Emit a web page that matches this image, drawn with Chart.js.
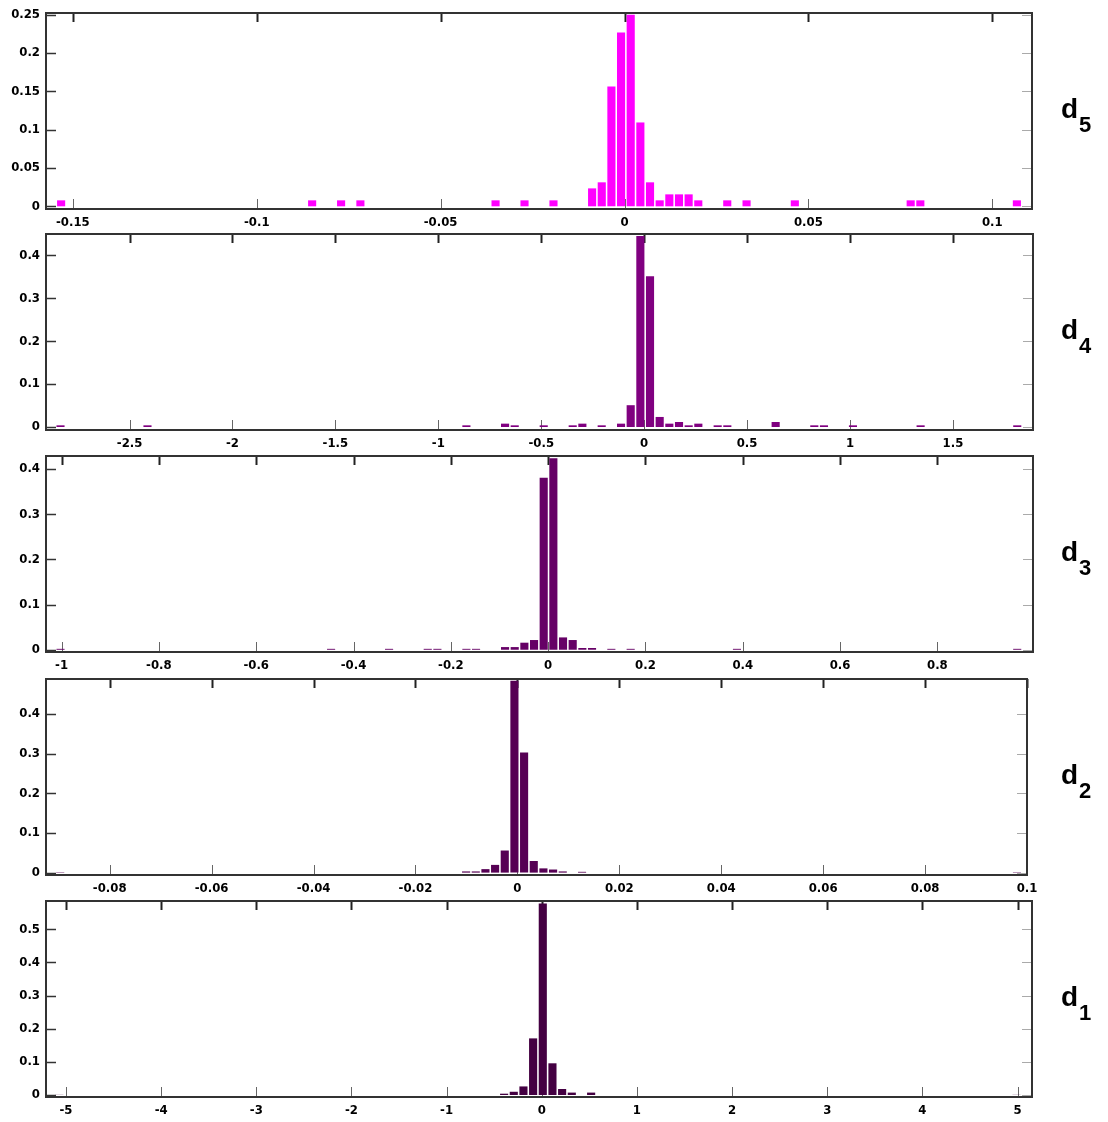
<!DOCTYPE html>
<html>
<head>
<meta charset="utf-8">
<script src="https://cdn.jsdelivr.net/npm/chart.js@4.4.1/dist/chart.umd.min.js"></script>
<style>
  body { margin: 0; background: #fff; }
  #wrap { position: relative; width: 1108px; height: 1122px; overflow: hidden; background: #fff; }
  #wrap canvas { position: absolute; left: 0; }
  .level { position: absolute; left: 1061px; font-family: "Liberation Sans", Arial, sans-serif; font-weight: bold; color: #000; line-height: 1; white-space: nowrap; }
  .level .d { font-size: 28px; }
  .level .n { font-size: 22px; position: relative; top: 14px; margin-left: 1px; }
</style>
</head>
<body>
<div id="wrap"></div>
<script>
// histogram of each detail level: 100 equal bins over the level's data range,
// only the non-empty bins are listed (bin index, relative frequency)

const d5Range = [-0.1545, 0.108];
const d5Bins = [0, 26, 29, 31, 45, 48, 51, 55, 56, 57, 58, 59, 60, 61, 62, 63, 64, 65, 66, 69, 71, 76, 88, 89, 99];
const d5Freq = [0.0078, 0.0078, 0.0078, 0.0078, 0.0078, 0.0078, 0.0078, 0.0234, 0.0313, 0.1563, 0.2266, 0.25, 0.1094,
  0.0313, 0.0078, 0.0156, 0.0156, 0.0156, 0.0078, 0.0078, 0.0078, 0.0078, 0.0078, 0.0078, 0.0078];
const d5XLimits = [-0.1573, 0.1108];
const d5YLimits = [-0.0035, 0.2522];
const d5XTicks = [-0.15, -0.1, -0.05, 0, 0.05, 0.1];
const d5YTicks = [0, 0.05, 0.1, 0.15, 0.2, 0.25];

const d4Range = [-2.859, 1.836];
const d4Bins = [0, 9, 42, 46, 47, 50, 53, 54, 56, 58, 59, 60, 61, 62, 63, 64, 65, 66, 68, 69, 74, 78, 79, 82, 89, 99];
const d4Freq = [0.0039, 0.0039, 0.0039, 0.0078, 0.0039, 0.0039, 0.0039, 0.0078, 0.0039, 0.0078, 0.0508, 0.4453, 0.3516,
  0.0234, 0.0078, 0.0117, 0.0039, 0.0078, 0.0039, 0.0039, 0.0117, 0.0039, 0.0039, 0.0039, 0.0039, 0.0039];
const d4XLimits = [-2.906, 1.889];
const d4YLimits = [-0.007, 0.4498];
const d4XTicks = [-2.5, -2, -1.5, -1, -0.5, 0, 0.5, 1, 1.5];
const d4YTicks = [0, 0.1, 0.2, 0.3, 0.4];

const d3Range = [-1.0121, 0.974];
const d3Bins = [0, 28, 34, 38, 39, 42, 43, 46, 47, 48, 49, 50, 51, 52, 53, 54, 55, 57, 59, 70, 99];
const d3Freq = [0.002, 0.002, 0.002, 0.002, 0.002, 0.002, 0.002, 0.0059, 0.0059, 0.0156, 0.0215, 0.3809, 0.4238,
  0.0273, 0.0215, 0.0039, 0.0039, 0.002, 0.002, 0.002, 0.002];
const d3XLimits = [-1.032, 0.9965];
const d3YLimits = [-0.005, 0.429];
const d3XTicks = [-1, -0.8, -0.6, -0.4, -0.2, 0, 0.2, 0.4, 0.6, 0.8];
const d3YTicks = [0, 0.1, 0.2, 0.3, 0.4];

const d2Range = [-0.09066, 0.09898];
const d2Bins = [0, 42, 43, 44, 45, 46, 47, 48, 49, 50, 51, 52, 54, 99];
const d2Freq = [0.001, 0.003, 0.003, 0.0088, 0.0195, 0.0557, 0.4834, 0.3027, 0.0293, 0.0107, 0.0078, 0.003, 0.002, 0.001];
const d2XLimits = [-0.0925, 0.1];
const d2YLimits = [-0.006, 0.488];
const d2XTicks = [-0.08, -0.06, -0.04, -0.02, 0, 0.02, 0.04, 0.06, 0.08, 0.1];
const d2YTicks = [0, 0.1, 0.2, 0.3, 0.4];

const d1Range = [-5.12, 5.04];
const d1Bins = [0, 46, 47, 48, 49, 50, 51, 52, 53, 55, 99];
const d1Freq = [0.0005, 0.004, 0.0098, 0.0259, 0.1709, 0.5781, 0.0957, 0.0181, 0.0073, 0.0073, 0.0005];
const d1XLimits = [-5.21, 5.152];
const d1YLimits = [-0.006, 0.5855];
const d1XTicks = [-5, -4, -3, -2, -1, 0, 1, 2, 3, 4, 5];
const d1YTicks = [0, 0.1, 0.2, 0.3, 0.4, 0.5];

const levels = [
  { name: "5", range: d5Range, bins: d5Bins, freq: d5Freq, xLim: d5XLimits, yLim: d5YLimits, xTicks: d5XTicks, yTicks: d5YTicks },
  { name: "4", range: d4Range, bins: d4Bins, freq: d4Freq, xLim: d4XLimits, yLim: d4YLimits, xTicks: d4XTicks, yTicks: d4YTicks },
  { name: "3", range: d3Range, bins: d3Bins, freq: d3Freq, xLim: d3XLimits, yLim: d3YLimits, xTicks: d3XTicks, yTicks: d3YTicks },
  { name: "2", range: d2Range, bins: d2Bins, freq: d2Freq, xLim: d2XLimits, yLim: d2YLimits, xTicks: d2XTicks, yTicks: d2YTicks },
  { name: "1", range: d1Range, bins: d1Bins, freq: d1Freq, xLim: d1XLimits, yLim: d1YLimits, xTicks: d1XTicks, yTicks: d1YTicks },
];

// panel boxes on the page and bar colours, top to bottom
const panelTops = [13, 234, 456, 679, 901];
const panelRights = [1032, 1033, 1033, 1027, 1032];
const panelHeight = 196;
const barColors = ["#ff00ff", "#800080", "#660066", "#560054", "#440042"];

const PAD_TOP = 16;
const AXIS_H = 24;
const tickFont = { family: '"DejaVu Sans Condensed", "DejaVu Sans", sans-serif', size: 13, weight: "bold" };

function binPoints(range, bins, freq) {
  var width = (range[1] - range[0]) / 100;
  return bins.map((b, i) => ({ x: range[0] + (b + 0.5) * width, y: freq[i] }));
}

function line(ctx, x1, y1, x2, y2, color, w) {
  ctx.beginPath();
  ctx.strokeStyle = color;
  ctx.lineWidth = w;
  ctx.moveTo(x1, y1);
  ctx.lineTo(x2, y2);
  ctx.stroke();
}

// inward tick marks on all four sides and the box round the plot
const boxPlugin = {
  id: "box",
  beforeDatasetsDraw(chart) {
    const { ctx, chartArea: a, scales } = chart;
    const { x, y } = scales;
    ctx.save();
    x.ticks.forEach((t) => {
      var px = Math.round(x.getPixelForValue(t.value)) + 0.5;
      line(ctx, px, a.bottom, px, a.bottom - 10, "#666", 1);
      line(ctx, px, a.top, px, a.top + 9, "#222", 2);
    });
    y.ticks.forEach((t) => {
      var py = Math.round(y.getPixelForValue(t.value)) + 0.5;
      line(ctx, a.left, py, a.left + 10, py, "#333", 1.5);
      line(ctx, a.right, py, a.right - 10, py, "#aaa", 1);
    });
    ctx.restore();
  },
  afterDatasetsDraw(chart) {
    const { ctx, chartArea: a } = chart;
    ctx.save();
    ctx.strokeStyle = "#333";
    ctx.lineWidth = 2;
    ctx.strokeRect(a.left, a.top, a.right - a.left, a.bottom - a.top);
    ctx.restore();
  },
};

function makePanel(level, i) {
  var wrap = document.getElementById("wrap");
  var canvas = document.createElement("canvas");
  canvas.width = 1108;
  canvas.height = PAD_TOP + panelHeight + AXIS_H;
  canvas.style.top = `${panelTops[i] - PAD_TOP}px`;
  wrap.appendChild(canvas);

  new Chart(canvas, {
    type: "bar",
    data: {
      datasets: [
        {
          data: binPoints(level.range, level.bins, level.freq),
          backgroundColor: barColors[i],
          borderWidth: 0,
          barPercentage: 0.84,
          categoryPercentage: 1,
        },
      ],
    },
    options: {
      responsive: false,
      animation: false,
      devicePixelRatio: 1,
      layout: { padding: { left: 0, top: PAD_TOP, right: 1108 - panelRights[i], bottom: 0 } },
      plugins: { legend: { display: false }, tooltip: { enabled: false } },
      scales: {
        x: {
          type: "linear",
          offset: false,
          min: level.xLim[0],
          max: level.xLim[1],
          grid: { display: false, drawTicks: false },
          border: { display: false },
          afterBuildTicks: (scale) => {
            scale.ticks = level.xTicks.map((v) => ({ value: v }));
          },
          afterFit: (scale) => {
            scale.height = AXIS_H;
          },
          ticks: {
            autoSkip: false,
            maxRotation: 0,
            padding: 6,
            color: "#000",
            font: tickFont,
            callback: (v) => String(v),
          },
        },
        y: {
          type: "linear",
          min: level.yLim[0],
          max: level.yLim[1],
          grid: { display: false, drawTicks: false },
          border: { display: false },
          afterBuildTicks: (scale) => {
            scale.ticks = level.yTicks.map((v) => ({ value: v }));
          },
          afterFit: (scale) => {
            scale.width = 46;
          },
          ticks: {
            padding: 6,
            color: "#000",
            font: tickFont,
            callback: (v) => String(v),
          },
        },
      },
    },
    plugins: [boxPlugin],
  });

  // level name d with its index as subscript, right of the panel
  var label = document.createElement("div");
  label.className = "level";
  label.style.top = `${panelTops[i] + panelHeight / 2 - 16}px`;
  label.innerHTML = `<span class="d">d</span><span class="n">${level.name}</span>`;
  wrap.appendChild(label);
}

levels.forEach(makePanel);
</script>
</body>
</html>
